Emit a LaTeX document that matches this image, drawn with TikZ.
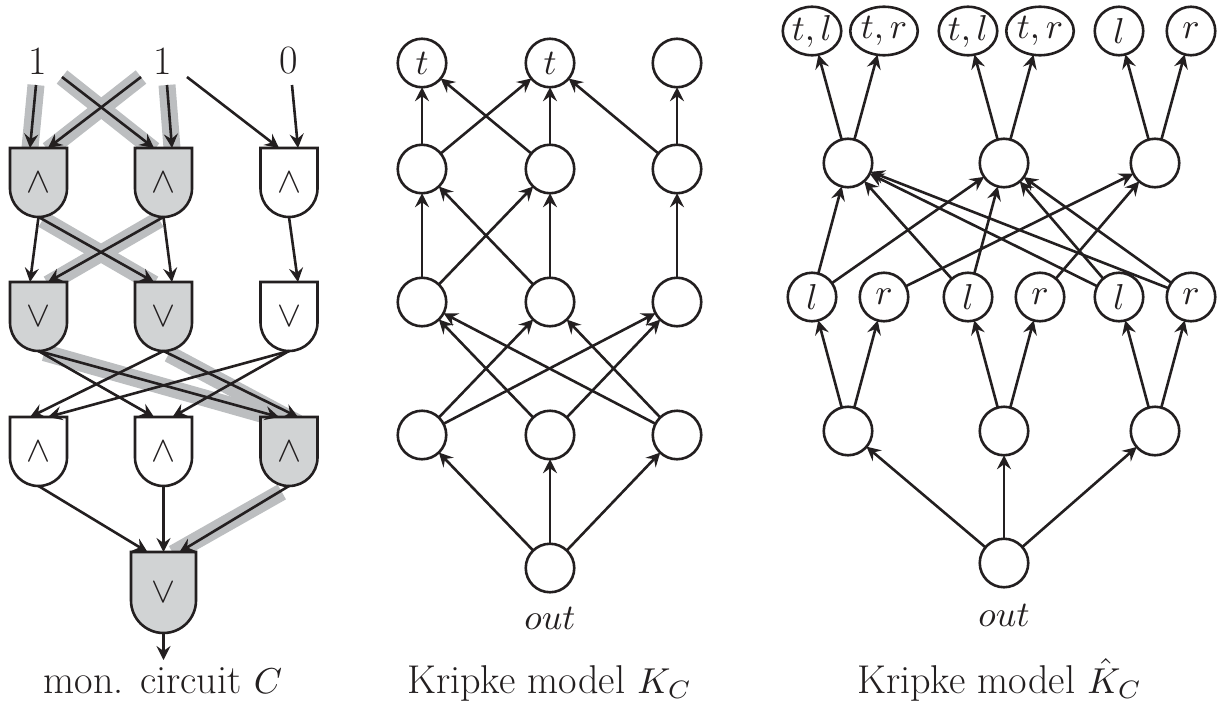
\RequirePackage{fix-cm}
\documentclass[tikz,border=0pt]{standalone}
\usetikzlibrary{arrows.meta,shapes.geometric,calc}
\DeclareFontShape{OT1}{cmr}{m}{n}{<-28>cmr7<28->cmr10}{}
\DeclareFontShape{OML}{cmm}{m}{it}{<-29>cmmi7<29->cmmi10}{}
\DeclareFontShape{OMS}{cmsy}{m}{n}{<-29>cmsy7<29->cmsy10}{}
\DeclareMathSizes{36}{36}{25.2}{18}
\newcommand\mth[1]{{\fontsize{36}{40}\selectfont$#1$}}
\definecolor{gatefill}{HTML}{D1D3D4}
\definecolor{bandgray}{HTML}{BCBEC0}
\definecolor{ink}{HTML}{231F20}
\pgfdeclarelayer{bandlayer}
\pgfsetlayers{bandlayer,main}
\tikzset{
  every picture/.style={x=1pt,y=-1pt},
  every node/.style={text=ink,font=\fontsize{40.2}{44}\selectfont},
  edge/.style={draw=ink,line width=2.6pt,-{Stealth[length=14pt,width=14pt,inset=5pt]}},
  band/.style={draw=bandgray,line width=17pt},
  kv/.style={circle,draw=ink,line width=2.6pt,minimum size=48.5pt,inner sep=0pt,outer sep=0pt},
  kw/.style={ellipse,draw=ink,line width=2.6pt,minimum height=48.5pt,inner sep=0pt,outer sep=0pt},
  gatesym/.style={inner sep=0pt,outer sep=0pt},
  caption/.style={anchor=base,inner sep=0pt},
}
% name, centre x, top y, width, height, fill, symbol
\newcommand\gatebox[7]{%
  \draw[draw=ink,line width=2.6pt,fill=#6]
    ({#2-#4/2},#3) -- ({#2+#4/2},#3) -- ({#2+#4/2},{#3+#5-#4/2})
    arc[start angle=0,end angle=-180,radius=#4/2*1pt] -- cycle;
  \node[gatesym,minimum width=#4pt,minimum height=#5pt] (#1) at (#2,{#3+#5/2}) {\raisebox{1pt}{\mth{#7}}};
}
\begin{document}
\begin{tikzpicture}
\useasboundingbox (0,0) rectangle (1220,704);
% --- circuit
\gatebox{ga}{38.5}{148}{57}{69}{gatefill}{\wedge}
\gatebox{gb}{163.5}{148}{57}{69}{gatefill}{\wedge}
\gatebox{gc}{289}{148}{57}{69}{white}{\wedge}
\gatebox{gd}{38.5}{282}{57}{69}{gatefill}{\vee}
\gatebox{ge}{163.5}{282}{57}{69}{gatefill}{\vee}
\gatebox{gf}{289}{282}{57}{69}{white}{\vee}
\gatebox{gg}{38.5}{417}{57}{69}{white}{\wedge}
\gatebox{gh}{163.5}{417}{57}{69}{white}{\wedge}
\gatebox{gi}{289}{417}{57}{69}{gatefill}{\wedge}
\gatebox{gj}{163.5}{552}{65}{81}{gatefill}{\vee}
\node[inner sep=0pt] (ia) at (38,61) {1};
\node[inner sep=0pt] (ib) at (163,61) {1};
\node[inner sep=0pt] (ic) at (289,61) {0};
\coordinate (ia1) at (36,85);
\coordinate (ia2) at (62,77);
\coordinate (ib1) at (141,77);
\coordinate (ib2) at (167,85);
\coordinate (ib3) at (187,77);
\coordinate (ic1) at (292,85);
\coordinate (out1) at (163.5,660);
\begin{pgfonlayer}{bandlayer}
  \draw[band] (ia1) -- ([xshift=-8.5pt]ga.north);
  \draw[band] (ia2) -- ([xshift=-9.5pt,yshift=-2pt]gb.north);
  \draw[band] (ib1) -- ([xshift=9.5pt,yshift=-2pt]ga.north);
  \draw[band] (ib2) -- ([xshift=8.5pt]gb.north);
  \draw[band,shorten <=5pt] (ga.south) -- ([xshift=-9.5pt,yshift=-2pt]ge.north);
  \draw[band,shorten <=5pt] (gb.south) -- ([xshift=9.5pt,yshift=-2pt]gd.north);
  \draw[band,shorten <=6pt] (gd.south) -- ([xshift=-10pt,yshift=-2pt]gi.north);
  \draw[band,shorten <=6pt] (ge.south) -- ([xshift=9pt,yshift=-6pt]gi.north);
  \draw[band,shorten <=6pt,shorten >=3pt,transform canvas={shift={(-2pt,-3pt)}}] (gi.south) -- ([xshift=9pt]gj.north);
\end{pgfonlayer}
\draw[edge] (ia1) -- ([xshift=-8.5pt]ga.north);
\draw[edge] (ia2) -- ([xshift=-9.5pt]gb.north);
\draw[edge] (ib1) -- ([xshift=9.5pt]ga.north);
\draw[edge] (ib2) -- ([xshift=8.5pt]gb.north);
\draw[edge] (ib3) -- ([xshift=-10pt]gc.north);
\draw[edge] (ic1) -- ([xshift=9pt]gc.north);
\draw[edge] (ga.south) -- ([xshift=-8.5pt]gd.north);
\draw[edge] (ga.south) -- ([xshift=-9.5pt]ge.north);
\draw[edge] (gb.south) -- ([xshift=9.5pt]gd.north);
\draw[edge] (gb.south) -- ([xshift=8.5pt]ge.north);
\draw[edge] (gc.south) -- ([xshift=9pt]gf.north);
\draw[edge] (gd.south) -- ([xshift=-9.5pt]gh.north);
\draw[edge] (gd.south) -- ([xshift=-10pt]gi.north);
\draw[edge] (ge.south) -- ([xshift=-8.5pt]gg.north);
\draw[edge] (ge.south) -- ([xshift=9pt]gi.north);
\draw[edge] (gf.south) -- ([xshift=9.5pt]gg.north);
\draw[edge] (gf.south) -- ([xshift=9pt]gh.north);
\draw[edge] (gg.south) -- ([xshift=-16pt]gj.north);
\draw[edge] (gh.south) -- (gj.north);
\draw[edge] (gi.south) -- ([xshift=16pt]gj.north);
\draw[edge] (gj.south) -- (out1);
\node[caption] (capa) at (163,693) {mon. circuit \mth{C}};
% --- K_C
\foreach \n/\x/\y/\t in {ka/422/63/\mth{t},kb/550/63/\mth{t},kc/677/63/{},
  kd/422/169/{},ke/550/169/{},kf/677/169/{},
  kg/422/302/{},kh/550/302/{},ki/677/302/{},
  kj/422/435/{},kk/550/435/{},kl/677/435/{},km/550/568/{}}
  \node[kv] (\n) at (\x,\y) {\t};
\foreach \a/\b in {km/kj,km/kk,km/kl,
  kj/kh,kj/ki,kk/kg,kk/ki,kl/kg,kl/kh,
  kg/kd,kg/ke,kh/kd,kh/ke,ki/kf,
  kd/ka,kd/kb,ke/ka,ke/kb,kf/kb,kf/kc}
  \draw[edge] (\a) -- (\b);
\node[inner sep=0pt] (kout) at (550,618) {\mth{out}};
\node[caption] (capb) at (549,693) {Kripke model \mth{K_C}};
% --- hat K_C
\node[kw,minimum width=58.5pt] (ra) at (812,31) {\mth{t,l}};
\node[kw,minimum width=67.5pt] (rb) at (884,31) {\mth{t,r}};
\node[kw,minimum width=58.5pt] (rc) at (968,31) {\mth{t,l}};
\node[kw,minimum width=67.5pt] (rd) at (1040,31) {\mth{t,r}};
\node[kv] (re) at (1119,31) {\mth{l}};
\node[kv] (rf) at (1191,31) {\mth{r}};
\foreach \n/\x/\y/\t in {rg/848/163/{},rh/1004/163/{},ri/1155/163/{},
  rj/812/297/\mth{l},rk/884/297/\mth{r},rl/968/297/\mth{l},rm/1040/297/\mth{r},rn/1119/297/\mth{l},ro/1191/297/\mth{r},
  rp/848/431/{},rq/1004/431/{},rr/1155/431/{},rs/1004/563/{}}
  \node[kv] (\n) at (\x,\y) {\t};
\foreach \a/\b in {rs/rp,rs/rq,rs/rr,
  rp/rj,rp/rk,rq/rl,rq/rm,rr/rn,rr/ro,
  rj/rg,rj/rh,rk/ri,rl/rg,rl/rh,rm/ri,rn/rg,rn/rh,ro/rg,ro/rh,
  rg/ra,rg/rb,rh/rc,rh/rd,ri/re,ri/rf}
  \draw[edge] (\a) -- (\b);
\node[inner sep=0pt] (rout) at (1004,615) {\mth{out}};
\node[caption] (capc) at (999,693) {Kripke model \mth{\hat{K}_C}};
\end{tikzpicture}
\end{document}
